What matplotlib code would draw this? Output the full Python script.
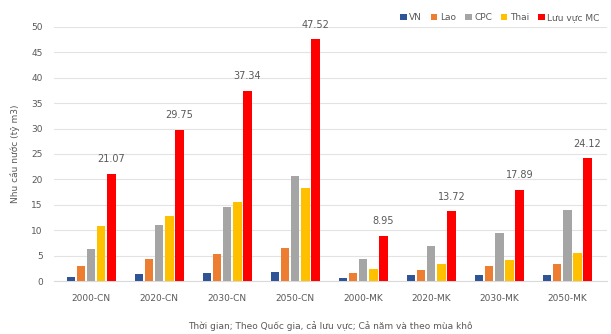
import matplotlib
matplotlib.use("Agg")
import matplotlib.pyplot as plt
import numpy as np

categories = ["2000-CN", "2020-CN", "2030-CN", "2050-CN",
              "2000-MK", "2020-MK", "2030-MK", "2050-MK"]
series_names = ["VN", "Lao", "CPC", "Thai", "Lưu vực MC"]
vn   = [0.9, 1.5, 1.6, 1.9, 0.7, 1.2, 1.3, 1.3]
lao  = [3.0, 4.3, 5.4, 6.6, 1.6, 2.2, 2.9, 3.3]
cpc  = [6.3, 11.1, 14.6, 20.6, 4.3, 6.9, 9.4, 13.9]
thai = [10.9, 12.9, 15.6, 18.4, 2.35, 3.3, 4.1, 5.5]
mc   = [21.07, 29.75, 37.34, 47.52, 8.95, 13.72, 17.89, 24.12]
colors = ["#2F5597", "#ED7D31", "#A5A5A5", "#FFC000", "#FF0000"]

plt.rcParams['font.family'] = ['DejaVu Sans']
txt = "#595959"

fig = plt.figure(figsize=(6.11, 3.34), dpi=100)
ax = fig.add_axes([0.088, 0.158, 0.905, 0.762])

x = np.arange(len(categories))
w = 0.125
step = 0.148
data = [vn, lao, cpc, thai, mc]
for i, (vals, name, c) in enumerate(zip(data, series_names, colors)):
    bars = ax.bar(x + (i - 2) * step, vals, w, color=c, label=name, zorder=3)
    if i == 4:
        for b, v in zip(bars, vals):
            ax.text(b.get_x() + b.get_width() / 2, v + 1.9, f"{v:.2f}",
                    ha="center", va="bottom", fontsize=7, color=txt)

ax.set_ylim(0, 50)
ax.set_yticks(range(0, 51, 5))
ax.set_xlim(-0.55, len(categories) - 0.42)
ax.set_xticks(x)
ax.set_xticklabels(categories)
ax.tick_params(axis="both", length=0, labelsize=6.5, colors=txt)
ax.tick_params(axis="x", pad=9)
ax.tick_params(axis="y", pad=8)
ax.grid(axis="y", color="#E3E3E3", linewidth=0.8, zorder=0)
for s in ["top", "right", "left"]:
    ax.spines[s].set_visible(False)
ax.spines["bottom"].set_color("#D9D9D9")

ax.set_ylabel("Nhu cầu nước (tỷ m3)", fontsize=6.5, color=txt, labelpad=8)
ax.set_xlabel("Thời gian; Theo Quốc gia, cả lưu vực; Cả năm và theo mùa khô",
              fontsize=6.5, color=txt, labelpad=13)

leg = fig.legend(loc="upper right", bbox_to_anchor=(0.995, 0.985), ncol=5,
                 frameon=False, fontsize=6.5, handlelength=0.7, handleheight=0.7,
                 handletextpad=0.3, columnspacing=1.0)
for t in leg.get_texts():
    t.set_color(txt)

fig.savefig("out.png", dpi=100, facecolor="white")
